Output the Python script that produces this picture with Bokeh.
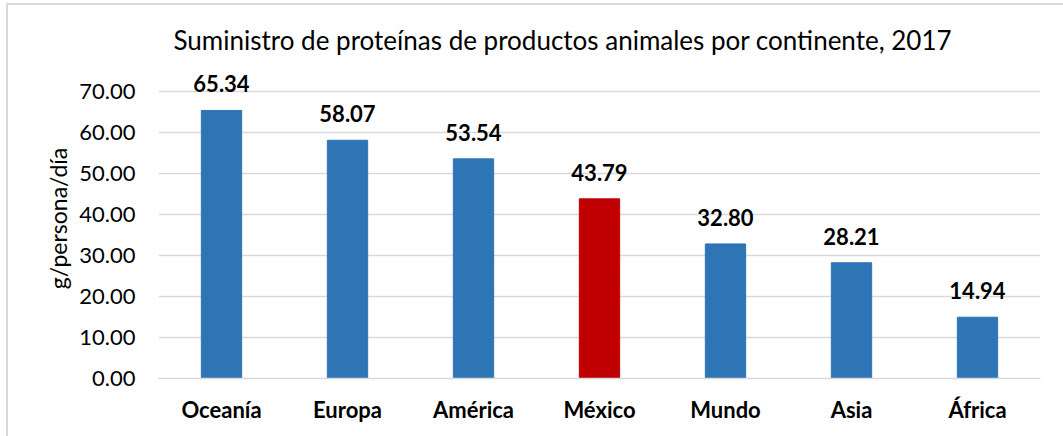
from bokeh.plotting import figure
from bokeh.models import ColumnDataSource, FixedTicker, Title, PrintfTickFormatter, LabelSet
from bokeh.core.properties import value
from bokeh.embed import file_html
from bokeh.resources import INLINE

categories = ["Oceanía", "Europa", "América", "México", "Mundo", "Asia", "África"]
values = [65.34, 58.07, 53.54, 43.79, 32.80, 28.21, 14.94]
colors = ["#2E75B6", "#2E75B6", "#2E75B6", "#C00000", "#2E75B6", "#2E75B6", "#2E75B6"]
y_ticks = [0, 10, 20, 30, 40, 50, 60, 70]
title_text = "Suministro de proteínas de productos animales por continente, 2017"
y_label = "g/persona/día"

FONT = "Lato"

src = ColumnDataSource(dict(cat=categories, val=values, col=colors,
                            lab=["%.2f" % v for v in values]))

p = figure(x_range=categories, y_range=(0, 78),
           frame_width=882, frame_height=320,
           output_backend="svg", toolbar_location=None,
           min_border_left=158, min_border_right=23,
           min_border_top=58, min_border_bottom=58)
p.outline_line_color = None
p.background_fill_color = "white"
p.border_fill_alpha = 0
p.styles = {"background-color": "white",
            "box-shadow": "inset 6px 3px 0 0 white, inset 8px 5px 0 0 #D9D9D9"}

p.vbar(x="cat", top="val", width=0.32, color="col", source=src)
labels = LabelSet(x="cat", y="val", text="lab", source=src, y_offset=18,
                  text_align="center", text_baseline="alphabetic",
                  text_font=value(FONT), text_font_style="bold", text_font_size="22px",
                  text_color="#000000")
p.add_layout(labels)

t = Title(text=title_text, align="left", offset=15, text_font=FONT, text_font_size="26px",
          text_font_style="normal", text_color="#000000", standoff=5)
p.add_layout(t, "above")

p.yaxis.ticker = FixedTicker(ticks=y_ticks)
p.yaxis.formatter = PrintfTickFormatter(format="%.2f")
p.yaxis.axis_line_color = None
p.yaxis.major_tick_line_color = None
p.yaxis.minor_tick_line_color = None
p.yaxis.major_tick_out = 0
p.yaxis.minor_tick_out = 0
p.yaxis.major_label_text_font = FONT
p.yaxis.major_label_text_font_size = "22px"
p.yaxis.major_label_text_color = "#000000"
p.yaxis.major_label_standoff = 23
p.yaxis.axis_label = y_label
p.yaxis.axis_label_text_font = FONT
p.yaxis.axis_label_text_font_size = "23px"
p.yaxis.axis_label_text_font_style = "normal"
p.yaxis.axis_label_text_color = "#000000"
p.yaxis.axis_label_standoff = 4

p.xaxis.axis_line_color = "#D9D9D9"
p.xaxis.axis_line_width = 1.5
p.xaxis.major_tick_line_color = None
p.xaxis.minor_tick_line_color = None
p.xaxis.major_tick_out = 0
p.xaxis.minor_tick_out = 0
p.xaxis.major_label_text_font = FONT
p.xaxis.major_label_text_font_style = "bold"
p.xaxis.major_label_text_font_size = "22px"
p.xaxis.major_label_text_color = "#000000"
p.xaxis.major_label_standoff = 17

p.xgrid.grid_line_color = None
p.ygrid.grid_line_color = "#D9D9D9"
p.ygrid.grid_line_width = 1.5

open("out.html", "w").write(file_html(p, INLINE))
